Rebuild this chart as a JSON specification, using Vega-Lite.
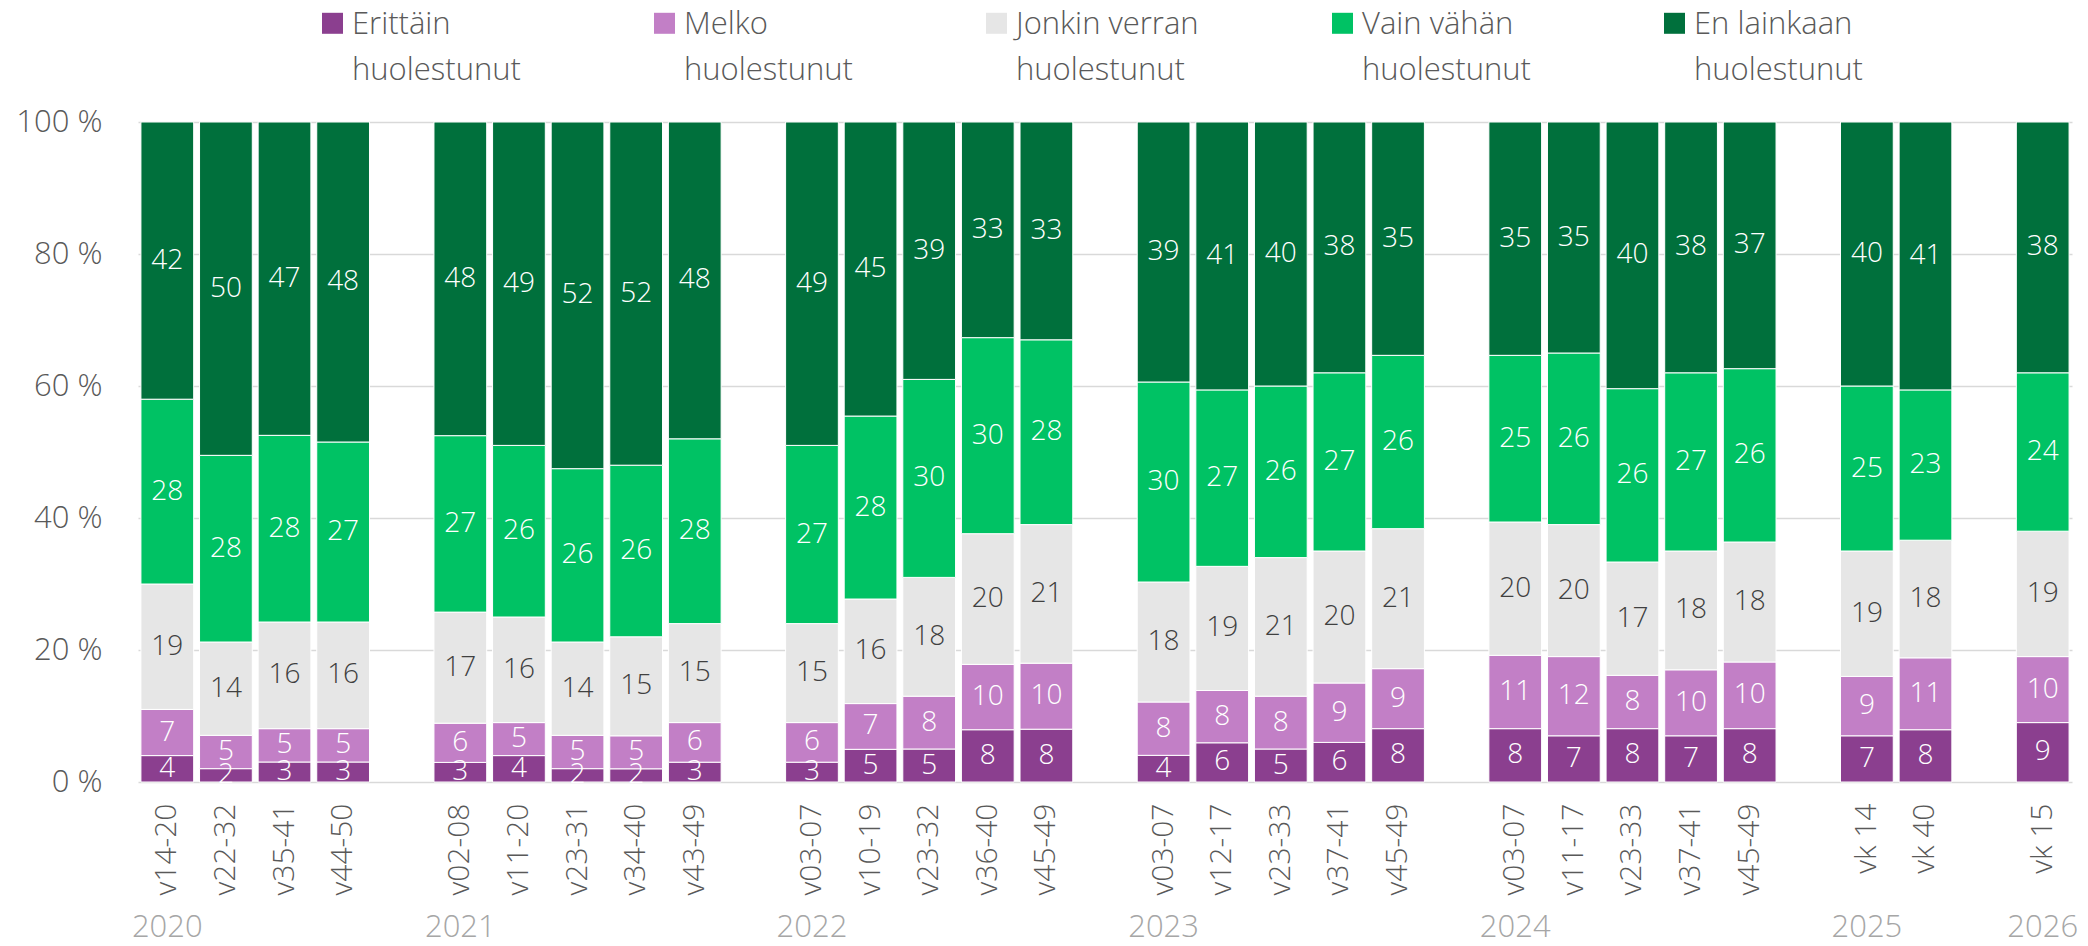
{
  "$schema": "https://vega.github.io/schema/vega-lite/v6.json",
  "autosize": {"type": "none"},
  "padding": {"left": 138, "top": 122, "right": 16, "bottom": 164},
  "width": 1934,
  "height": 660,
  "background": "white",
  "config": {
    "font": "Open Sans",
    "view": {"stroke": null},
    "style": {"guide-label": {"lineHeight": 46}}
  },
  "data": {"values": [
    {"slot":"2020|v14-20","cat":"Erittäin huolestunut","k":1,"value":4},
    {"slot":"2020|v14-20","cat":"Melko huolestunut","k":2,"value":7},
    {"slot":"2020|v14-20","cat":"Jonkin verran huolestunut","k":3,"value":19},
    {"slot":"2020|v14-20","cat":"Vain vähän huolestunut","k":4,"value":28},
    {"slot":"2020|v14-20","cat":"En lainkaan huolestunut","k":5,"value":42},
    {"slot":"2020|v22-32","cat":"Erittäin huolestunut","k":1,"value":2},
    {"slot":"2020|v22-32","cat":"Melko huolestunut","k":2,"value":5},
    {"slot":"2020|v22-32","cat":"Jonkin verran huolestunut","k":3,"value":14},
    {"slot":"2020|v22-32","cat":"Vain vähän huolestunut","k":4,"value":28},
    {"slot":"2020|v22-32","cat":"En lainkaan huolestunut","k":5,"value":50},
    {"slot":"2020|v35-41","cat":"Erittäin huolestunut","k":1,"value":3},
    {"slot":"2020|v35-41","cat":"Melko huolestunut","k":2,"value":5},
    {"slot":"2020|v35-41","cat":"Jonkin verran huolestunut","k":3,"value":16},
    {"slot":"2020|v35-41","cat":"Vain vähän huolestunut","k":4,"value":28},
    {"slot":"2020|v35-41","cat":"En lainkaan huolestunut","k":5,"value":47},
    {"slot":"2020|v44-50","cat":"Erittäin huolestunut","k":1,"value":3},
    {"slot":"2020|v44-50","cat":"Melko huolestunut","k":2,"value":5},
    {"slot":"2020|v44-50","cat":"Jonkin verran huolestunut","k":3,"value":16},
    {"slot":"2020|v44-50","cat":"Vain vähän huolestunut","k":4,"value":27},
    {"slot":"2020|v44-50","cat":"En lainkaan huolestunut","k":5,"value":48},
    {"slot":"2021|v02-08","cat":"Erittäin huolestunut","k":1,"value":3},
    {"slot":"2021|v02-08","cat":"Melko huolestunut","k":2,"value":6},
    {"slot":"2021|v02-08","cat":"Jonkin verran huolestunut","k":3,"value":17},
    {"slot":"2021|v02-08","cat":"Vain vähän huolestunut","k":4,"value":27},
    {"slot":"2021|v02-08","cat":"En lainkaan huolestunut","k":5,"value":48},
    {"slot":"2021|v11-20","cat":"Erittäin huolestunut","k":1,"value":4},
    {"slot":"2021|v11-20","cat":"Melko huolestunut","k":2,"value":5},
    {"slot":"2021|v11-20","cat":"Jonkin verran huolestunut","k":3,"value":16},
    {"slot":"2021|v11-20","cat":"Vain vähän huolestunut","k":4,"value":26},
    {"slot":"2021|v11-20","cat":"En lainkaan huolestunut","k":5,"value":49},
    {"slot":"2021|v23-31","cat":"Erittäin huolestunut","k":1,"value":2},
    {"slot":"2021|v23-31","cat":"Melko huolestunut","k":2,"value":5},
    {"slot":"2021|v23-31","cat":"Jonkin verran huolestunut","k":3,"value":14},
    {"slot":"2021|v23-31","cat":"Vain vähän huolestunut","k":4,"value":26},
    {"slot":"2021|v23-31","cat":"En lainkaan huolestunut","k":5,"value":52},
    {"slot":"2021|v34-40","cat":"Erittäin huolestunut","k":1,"value":2},
    {"slot":"2021|v34-40","cat":"Melko huolestunut","k":2,"value":5},
    {"slot":"2021|v34-40","cat":"Jonkin verran huolestunut","k":3,"value":15},
    {"slot":"2021|v34-40","cat":"Vain vähän huolestunut","k":4,"value":26},
    {"slot":"2021|v34-40","cat":"En lainkaan huolestunut","k":5,"value":52},
    {"slot":"2021|v43-49","cat":"Erittäin huolestunut","k":1,"value":3},
    {"slot":"2021|v43-49","cat":"Melko huolestunut","k":2,"value":6},
    {"slot":"2021|v43-49","cat":"Jonkin verran huolestunut","k":3,"value":15},
    {"slot":"2021|v43-49","cat":"Vain vähän huolestunut","k":4,"value":28},
    {"slot":"2021|v43-49","cat":"En lainkaan huolestunut","k":5,"value":48},
    {"slot":"2022|v03-07","cat":"Erittäin huolestunut","k":1,"value":3},
    {"slot":"2022|v03-07","cat":"Melko huolestunut","k":2,"value":6},
    {"slot":"2022|v03-07","cat":"Jonkin verran huolestunut","k":3,"value":15},
    {"slot":"2022|v03-07","cat":"Vain vähän huolestunut","k":4,"value":27},
    {"slot":"2022|v03-07","cat":"En lainkaan huolestunut","k":5,"value":49},
    {"slot":"2022|v10-19","cat":"Erittäin huolestunut","k":1,"value":5},
    {"slot":"2022|v10-19","cat":"Melko huolestunut","k":2,"value":7},
    {"slot":"2022|v10-19","cat":"Jonkin verran huolestunut","k":3,"value":16},
    {"slot":"2022|v10-19","cat":"Vain vähän huolestunut","k":4,"value":28},
    {"slot":"2022|v10-19","cat":"En lainkaan huolestunut","k":5,"value":45},
    {"slot":"2022|v23-32","cat":"Erittäin huolestunut","k":1,"value":5},
    {"slot":"2022|v23-32","cat":"Melko huolestunut","k":2,"value":8},
    {"slot":"2022|v23-32","cat":"Jonkin verran huolestunut","k":3,"value":18},
    {"slot":"2022|v23-32","cat":"Vain vähän huolestunut","k":4,"value":30},
    {"slot":"2022|v23-32","cat":"En lainkaan huolestunut","k":5,"value":39},
    {"slot":"2022|v36-40","cat":"Erittäin huolestunut","k":1,"value":8},
    {"slot":"2022|v36-40","cat":"Melko huolestunut","k":2,"value":10},
    {"slot":"2022|v36-40","cat":"Jonkin verran huolestunut","k":3,"value":20},
    {"slot":"2022|v36-40","cat":"Vain vähän huolestunut","k":4,"value":30},
    {"slot":"2022|v36-40","cat":"En lainkaan huolestunut","k":5,"value":33},
    {"slot":"2022|v45-49","cat":"Erittäin huolestunut","k":1,"value":8},
    {"slot":"2022|v45-49","cat":"Melko huolestunut","k":2,"value":10},
    {"slot":"2022|v45-49","cat":"Jonkin verran huolestunut","k":3,"value":21},
    {"slot":"2022|v45-49","cat":"Vain vähän huolestunut","k":4,"value":28},
    {"slot":"2022|v45-49","cat":"En lainkaan huolestunut","k":5,"value":33},
    {"slot":"2023|v03-07","cat":"Erittäin huolestunut","k":1,"value":4},
    {"slot":"2023|v03-07","cat":"Melko huolestunut","k":2,"value":8},
    {"slot":"2023|v03-07","cat":"Jonkin verran huolestunut","k":3,"value":18},
    {"slot":"2023|v03-07","cat":"Vain vähän huolestunut","k":4,"value":30},
    {"slot":"2023|v03-07","cat":"En lainkaan huolestunut","k":5,"value":39},
    {"slot":"2023|v12-17","cat":"Erittäin huolestunut","k":1,"value":6},
    {"slot":"2023|v12-17","cat":"Melko huolestunut","k":2,"value":8},
    {"slot":"2023|v12-17","cat":"Jonkin verran huolestunut","k":3,"value":19},
    {"slot":"2023|v12-17","cat":"Vain vähän huolestunut","k":4,"value":27},
    {"slot":"2023|v12-17","cat":"En lainkaan huolestunut","k":5,"value":41},
    {"slot":"2023|v23-33","cat":"Erittäin huolestunut","k":1,"value":5},
    {"slot":"2023|v23-33","cat":"Melko huolestunut","k":2,"value":8},
    {"slot":"2023|v23-33","cat":"Jonkin verran huolestunut","k":3,"value":21},
    {"slot":"2023|v23-33","cat":"Vain vähän huolestunut","k":4,"value":26},
    {"slot":"2023|v23-33","cat":"En lainkaan huolestunut","k":5,"value":40},
    {"slot":"2023|v37-41","cat":"Erittäin huolestunut","k":1,"value":6},
    {"slot":"2023|v37-41","cat":"Melko huolestunut","k":2,"value":9},
    {"slot":"2023|v37-41","cat":"Jonkin verran huolestunut","k":3,"value":20},
    {"slot":"2023|v37-41","cat":"Vain vähän huolestunut","k":4,"value":27},
    {"slot":"2023|v37-41","cat":"En lainkaan huolestunut","k":5,"value":38},
    {"slot":"2023|v45-49","cat":"Erittäin huolestunut","k":1,"value":8},
    {"slot":"2023|v45-49","cat":"Melko huolestunut","k":2,"value":9},
    {"slot":"2023|v45-49","cat":"Jonkin verran huolestunut","k":3,"value":21},
    {"slot":"2023|v45-49","cat":"Vain vähän huolestunut","k":4,"value":26},
    {"slot":"2023|v45-49","cat":"En lainkaan huolestunut","k":5,"value":35},
    {"slot":"2024|v03-07","cat":"Erittäin huolestunut","k":1,"value":8},
    {"slot":"2024|v03-07","cat":"Melko huolestunut","k":2,"value":11},
    {"slot":"2024|v03-07","cat":"Jonkin verran huolestunut","k":3,"value":20},
    {"slot":"2024|v03-07","cat":"Vain vähän huolestunut","k":4,"value":25},
    {"slot":"2024|v03-07","cat":"En lainkaan huolestunut","k":5,"value":35},
    {"slot":"2024|v11-17","cat":"Erittäin huolestunut","k":1,"value":7},
    {"slot":"2024|v11-17","cat":"Melko huolestunut","k":2,"value":12},
    {"slot":"2024|v11-17","cat":"Jonkin verran huolestunut","k":3,"value":20},
    {"slot":"2024|v11-17","cat":"Vain vähän huolestunut","k":4,"value":26},
    {"slot":"2024|v11-17","cat":"En lainkaan huolestunut","k":5,"value":35},
    {"slot":"2024|v23-33","cat":"Erittäin huolestunut","k":1,"value":8},
    {"slot":"2024|v23-33","cat":"Melko huolestunut","k":2,"value":8},
    {"slot":"2024|v23-33","cat":"Jonkin verran huolestunut","k":3,"value":17},
    {"slot":"2024|v23-33","cat":"Vain vähän huolestunut","k":4,"value":26},
    {"slot":"2024|v23-33","cat":"En lainkaan huolestunut","k":5,"value":40},
    {"slot":"2024|v37-41","cat":"Erittäin huolestunut","k":1,"value":7},
    {"slot":"2024|v37-41","cat":"Melko huolestunut","k":2,"value":10},
    {"slot":"2024|v37-41","cat":"Jonkin verran huolestunut","k":3,"value":18},
    {"slot":"2024|v37-41","cat":"Vain vähän huolestunut","k":4,"value":27},
    {"slot":"2024|v37-41","cat":"En lainkaan huolestunut","k":5,"value":38},
    {"slot":"2024|v45-49","cat":"Erittäin huolestunut","k":1,"value":8},
    {"slot":"2024|v45-49","cat":"Melko huolestunut","k":2,"value":10},
    {"slot":"2024|v45-49","cat":"Jonkin verran huolestunut","k":3,"value":18},
    {"slot":"2024|v45-49","cat":"Vain vähän huolestunut","k":4,"value":26},
    {"slot":"2024|v45-49","cat":"En lainkaan huolestunut","k":5,"value":37},
    {"slot":"2025|vk 14","cat":"Erittäin huolestunut","k":1,"value":7},
    {"slot":"2025|vk 14","cat":"Melko huolestunut","k":2,"value":9},
    {"slot":"2025|vk 14","cat":"Jonkin verran huolestunut","k":3,"value":19},
    {"slot":"2025|vk 14","cat":"Vain vähän huolestunut","k":4,"value":25},
    {"slot":"2025|vk 14","cat":"En lainkaan huolestunut","k":5,"value":40},
    {"slot":"2025|vk 40","cat":"Erittäin huolestunut","k":1,"value":8},
    {"slot":"2025|vk 40","cat":"Melko huolestunut","k":2,"value":11},
    {"slot":"2025|vk 40","cat":"Jonkin verran huolestunut","k":3,"value":18},
    {"slot":"2025|vk 40","cat":"Vain vähän huolestunut","k":4,"value":23},
    {"slot":"2025|vk 40","cat":"En lainkaan huolestunut","k":5,"value":41},
    {"slot":"2026|vk 15","cat":"Erittäin huolestunut","k":1,"value":9},
    {"slot":"2026|vk 15","cat":"Melko huolestunut","k":2,"value":10},
    {"slot":"2026|vk 15","cat":"Jonkin verran huolestunut","k":3,"value":19},
    {"slot":"2026|vk 15","cat":"Vain vähän huolestunut","k":4,"value":24},
    {"slot":"2026|vk 15","cat":"En lainkaan huolestunut","k":5,"value":38}
  ]},
  "resolve": {"axis": {"x": "independent"}},
  "layer": [
    {
      "mark": {"type": "bar", "stroke": "white", "strokeWidth": 1},
      "encoding": {
        "x": {
          "field": "slot", "type": "ordinal",
          "scale": {
            "domain": ["2020|v14-20","2020|v22-32","2020|v35-41","2020|v44-50","g1|",
                       "2021|v02-08","2021|v11-20","2021|v23-31","2021|v34-40","2021|v43-49","g2|",
                       "2022|v03-07","2022|v10-19","2022|v23-32","2022|v36-40","2022|v45-49","g3|",
                       "2023|v03-07","2023|v12-17","2023|v23-33","2023|v37-41","2023|v45-49","g4|",
                       "2024|v03-07","2024|v11-17","2024|v23-33","2024|v37-41","2024|v45-49","g5|",
                       "2025|vk 14","2025|vk 40","g6|","2026|vk 15"],
            "paddingInner": 0.1, "paddingOuter": 0.05
          },
          "axis": {
            "title": null,
            "labelExpr": "split(datum.value, '|')[1]",
            "labelAngle": -90,
            "labelFontSize": 30,
            "labelColor": "#595959",
            "labelPadding": 21,
            "ticks": false,
            "tickSize": 0,
            "domain": false,
            "grid": false,
            "labelOverlap": false,
            "labelFontWeight": 300
          }
        },
        "y": {
          "field": "value", "type": "quantitative", "stack": "normalize",
          "scale": {"domain": [0, 1], "nice": false},
          "axis": {
            "title": null,
            "values": [0, 0.2, 0.4, 0.6, 0.8, 1],
            "labelExpr": "format(datum.value * 100, 'd') + ' %'",
            "labelFontSize": 31,
            "labelColor": "#595959",
            "labelPadding": 36,
            "ticks": false,
            "tickSize": 0,
            "domain": false,
            "grid": true,
            "gridColor": "#d9d9d9",
            "gridWidth": 1.5,
            "labelFontWeight": 300
          }
        },
        "order": {"field": "k", "type": "quantitative"},
        "color": {
          "field": "cat", "type": "nominal",
          "scale": {
            "domain": ["Erittäin huolestunut","Melko huolestunut","Jonkin verran huolestunut","Vain vähän huolestunut","En lainkaan huolestunut"],
            "range": ["#8b3f8f","#c27fc6","#e6e6e6","#00c264","#00703c"]
          },
          "legend": {
            "title": null,
            "orient": "none",
            "legendX": 179,
            "legendY": -128,
            "direction": "horizontal",
            "columns": 5,
            "padding": 0,
            "symbolType": "M-1,0.29H1V2.29H-1Z",
            "symbolSize": 441,
            "symbolStrokeWidth": 0,
            "symbolOpacity": 1,
            "labelFontSize": 31,
            "labelFontWeight": 300,
            "labelColor": "#595959",
            "labelOffset": 4,
            "labelLimit": 500,
            "labelBaseline": "top",
            "columnPadding": 128,
            "labelExpr": "[substring(datum.label, 0, length(datum.label) - 12), 'huolestunut']"
          }
        }
      }
    },
    {
      "mark": {"type": "text", "fontSize": 28, "fontWeight": 300},
      "encoding": {
        "x": {
          "field": "slot", "type": "ordinal",
          "axis": {
            "title": null,
            "orient": "bottom",
            "offset": 113,
            "labelExpr": "indexof(['2020|v14-20','2021|v02-08','2022|v03-07','2023|v03-07','2024|v03-07','2025|vk 14','2026|vk 15'], datum.value) >= 0 ? split(datum.value, '|')[0] : ''",
            "labelAngle": 0,
            "labelFontSize": 31,
            "labelColor": "#a6a6a6",
            "labelPadding": 17,
            "ticks": false,
            "tickSize": 0,
            "domain": false,
            "grid": false,
            "labelOverlap": false,
            "labelFontWeight": 300
          }
        },
        "y": {"field": "value", "type": "quantitative", "stack": "normalize", "bandPosition": 0.5},
        "order": {"field": "k", "type": "quantitative"},
        "text": {"field": "value", "type": "quantitative", "format": "d"},
        "color": {
          "condition": {"test": "datum.cat == 'Jonkin verran huolestunut'", "value": "#404040"},
          "value": "white"
        }
      }
    }
  ]
}
